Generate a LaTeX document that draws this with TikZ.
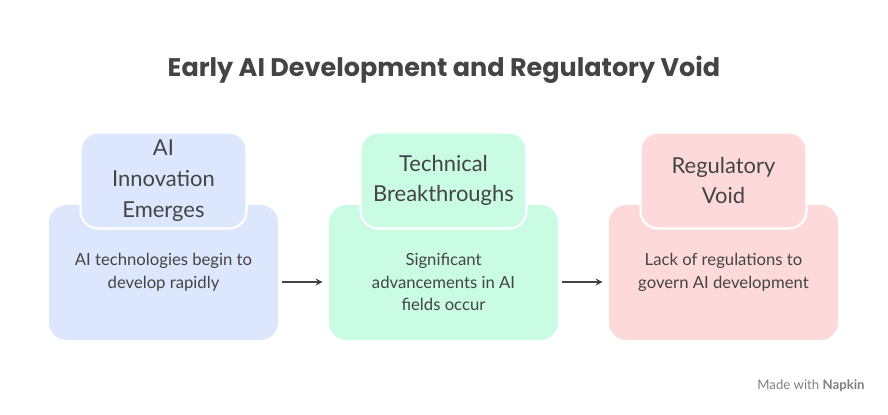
\documentclass[tikz,border=0pt]{standalone}
\usepackage{fontspec}
\setmainfont{Lato}
\newfontfamily\titlefont{Poppins}
\usetikzlibrary{positioning}
\definecolor{bluefill}{HTML}{DCE6FD}
\definecolor{greenfill}{HTML}{C9FCE3}
\definecolor{redfill}{HTML}{FDD9D9}
\definecolor{inkgray}{HTML}{444444}
\tikzset{
  base/.style={rounded corners=10pt, minimum width=229*0.02cm, minimum height=135*0.02cm},
  bodytext/.style={align=center, font=\fontsize{9.5}{13}\selectfont, text=inkgray},
  head/.style={rounded corners=10pt, draw=white, line width=1.2pt, minimum width=166*0.02cm,
    minimum height=96*0.02cm, align=center,
    font=\fontsize{12.5}{17.5}\selectfont, text=inkgray},
  flow/.style={->, >=stealth, thick, inkgray, shorten <=4*0.02cm, shorten >=6*0.02cm}
}
\begin{document}
\begin{tikzpicture}[x=0.02cm,y=-0.02cm]
\useasboundingbox (0,0) rectangle (888,415);

% title
\node[font=\titlefont\bfseries\fontsize{14.5}{18}\selectfont, text=inkgray] (title) at (444,70)
{Early AI Development and Regulatory Void};

% step 1
\node[base, fill=bluefill] (innovBody) at (163.5,272.5) {};
\node[head, fill=bluefill] (innovHead) at (163.5,180.5) {AI\\Innovation\\Emerges};
\node[bodytext] (innovText) at (163.5,272) {AI technologies begin to\\develop rapidly};

% step 2
\node[base, fill=greenfill] (techBody) at (443.5,272.5) {};
\node[head, fill=greenfill] (techHead) at (443.5,180.5) {Technical\\Breakthroughs};
\node[bodytext] (techText) at (443.5,282) {Significant\\advancements in AI\\fields occur};

% step 3
\node[base, fill=redfill] (regBody) at (723.5,272.5) {};
\node[head, fill=redfill] (regHead) at (723.5,180.5) {Regulatory\\Void};
\node[bodytext] (regText) at (723.5,272) {Lack of regulations to\\govern AI development};

% arrows
\draw[flow] (innovBody.east |- 0,282) -- (techBody.west |- 0,282);
\draw[flow] (techBody.east |- 0,282) -- (regBody.west |- 0,282);

% watermark
\node[font=\fontsize{7.5}{10}\selectfont, text=gray] (mark) at (811,386) {Made with \textbf{Napkin}};
\end{tikzpicture}
\end{document}
